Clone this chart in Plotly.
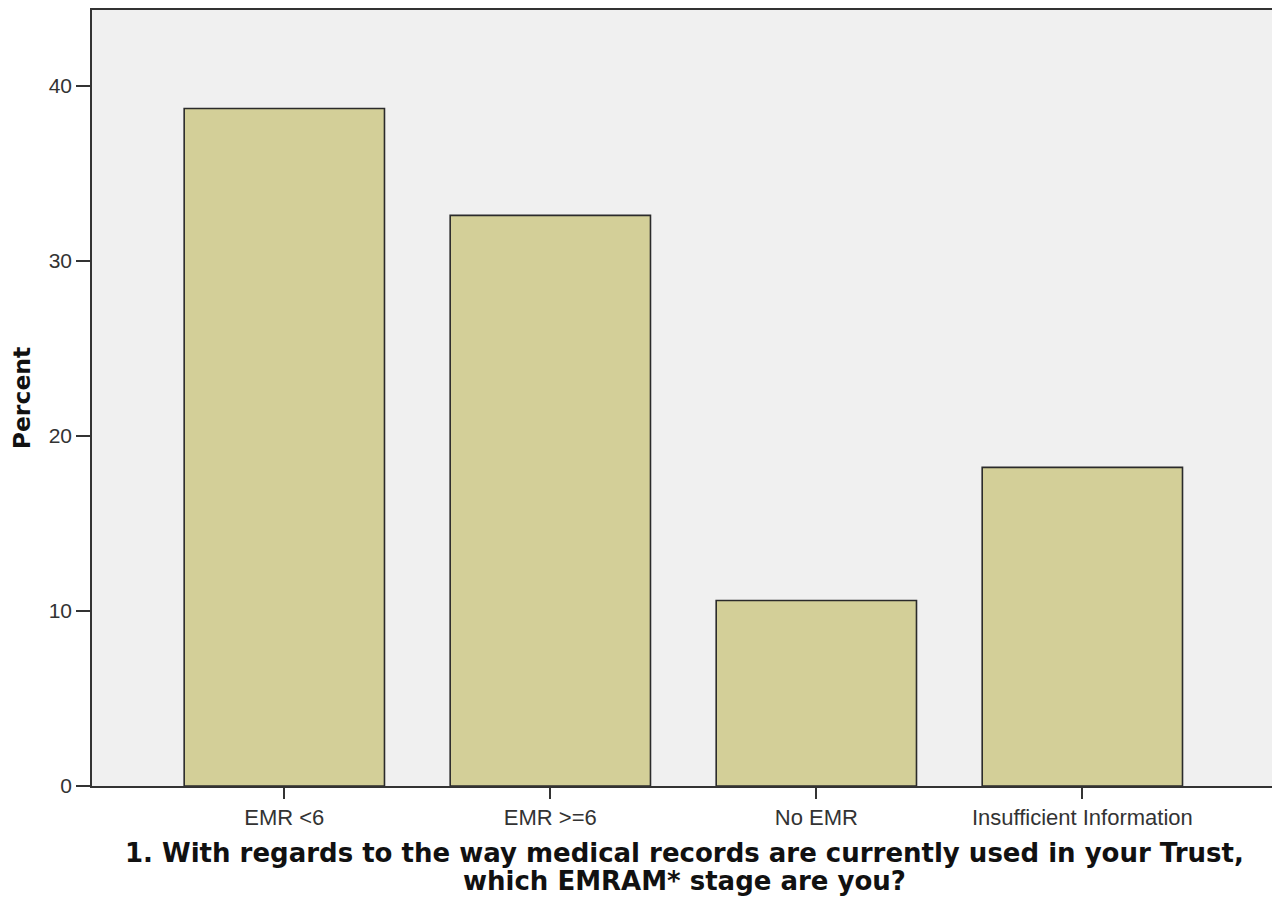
import plotly.graph_objects as go

categories = ["EMR <6", "EMR >=6", "No EMR", "Insufficient Information"]
percent = [38.7, 32.6, 10.6, 18.2]
y_ticks = [0, 10, 20, 30, 40]
x_title_lines = [
    "1. With regards to the way medical records are currently used in your Trust,",
    "which EMRAM* stage are you?",
]

fig = go.Figure()
fig.add_trace(go.Bar(
    x=categories,
    y=percent,
    width=0.753,
    marker=dict(color="#d3cf98", line=dict(color="#2b2b2b", width=1.6)),
))

# the page adds an 8px body margin, so the margins here are shifted by that
fig.update_layout(
    width=1280, height=903,
    margin=dict(l=84, r=12, t=0, b=125),
    plot_bgcolor="#f0f0f0",
    paper_bgcolor="white",
    showlegend=False,
    font=dict(family="Liberation Sans, Arial", color="#222"),
)

# two-line x title as annotations so the line spacing can be kept tight
for i, line in enumerate(x_title_lines):
    fig.add_annotation(
        text="<b>" + line + "</b>",
        xref="paper", yref="paper", x=0.5, y=0,
        xanchor="center", yanchor="middle",
        yshift=-67 - 28 * i,
        showarrow=False,
        font=dict(family="DejaVu Sans", size=26, color="#111"),
    )

fig.update_xaxes(
    range=[-0.723, 3.728],
    showline=True, linecolor="#333", linewidth=1.6, mirror=True,
    ticks="outside", ticklen=11, tickwidth=1.6, tickcolor="#333",
    tickfont=dict(size=22, color="#333"),
    showgrid=False,
)

fig.update_yaxes(
    range=[0, 44.33],
    tickvals=y_ticks,
    showline=True, linecolor="#333", linewidth=1.6, mirror=True,
    ticks="outside", ticklen=14, tickwidth=1.6, tickcolor="#333",
    tickfont=dict(size=21, color="#333"),
    showgrid=False, zeroline=False,
    title=dict(text="<b>Percent</b>", font=dict(family="DejaVu Sans", size=23.5, color="#111"), standoff=21),
)

fig.write_html("out.html")
